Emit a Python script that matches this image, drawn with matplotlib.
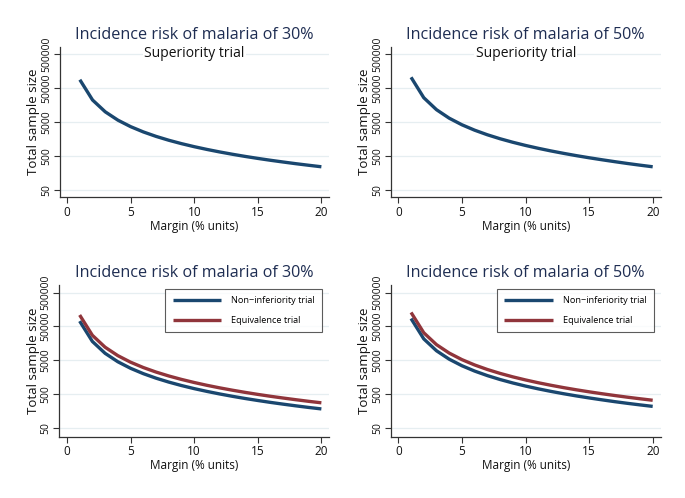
import matplotlib
matplotlib.use("Agg")
import matplotlib.pyplot as plt
from matplotlib.ticker import FixedLocator, NullLocator

plt.rcParams['font.family'] = ['Open Sans', 'DejaVu Sans']

margin = list(range(1, 21))

sup_30 = [89100, 22470, 10070, 5707, 3679, 2571, 1901, 1463, 1162, 946,
          785, 662, 566, 489, 427, 376, 334, 298, 268, 242]
sup_50 = [105080, 26254, 11657, 6548, 4183, 2898, 2124, 1621, 1277, 1030,
          848, 709, 601, 515, 446, 390, 343, 303, 270, 242]
ni_30 = [71940, 17985, 7993, 4496, 2878, 1998, 1468, 1124, 888, 719,
         595, 500, 426, 367, 320, 281, 249, 222, 199, 180]
eq_30 = [109170, 27290, 12130, 6823, 4367, 3033, 2228, 1706, 1348, 1092,
         902, 758, 646, 557, 485, 426, 378, 337, 302, 273]
ni_50 = [85640, 21410, 9516, 5353, 3426, 2379, 1748, 1338, 1057, 856,
         708, 595, 507, 437, 381, 335, 296, 264, 237, 214]
eq_50 = [129960, 32490, 14440, 8123, 5198, 3610, 2652, 2031, 1604, 1300,
         1074, 903, 769, 663, 578, 508, 450, 401, 360, 325]

titles = ["Incidence risk of malaria of 30%", "Incidence risk of malaria of 50%"]
subtitle = "Superiority trial"
legend_labels = ["Non\u2212inferiority trial", "Equivalence trial"]
xticks = [0, 5, 10, 15, 20]
yticks = [50, 500, 5000, 50000, 500000]
ytick_labels = ["50", "500", "5000", "50000", "500000"]
xlabel = "Margin (% units)"
ylabel = "Total sample size"

NAVY = "#1a476f"
MAROON = "#90353b"
TITLE_C = "#1e2d52"
GRID_C = "#e6eef1"
AX_C = "#333333"

W, H = 685, 498
fig = plt.figure(figsize=(W / 100, H / 100), dpi=100)
fig.patch.set_facecolor("white")

def px_axes(l, r, t, b):
    return fig.add_axes([l / W, 1 - b / H, (r - l) / W, (b - t) / H])

top_ylim = (10 ** 1.484, 10 ** 5.923)
bot_ylim = (10 ** 1.432, 10 ** 5.927)

axes_specs = [
    (59.5, 329, 46.7, 197.3, top_ylim, -0.6, 20.6),
    (390.7, 660.7, 46.7, 197.3, top_ylim, -0.6, 20.63),
    (59.3, 329, 285, 436.7, bot_ylim, -0.6, 20.6),
    (390.7, 660.7, 285, 436.7, bot_ylim, -0.6, 20.63),
]

axs = []
for (l, r, t, b, yl, x0, x1) in axes_specs:
    ax = px_axes(l, r, t, b)
    ax.set_yscale("log")
    ax.set_ylim(*yl)
    ax.set_xlim(x0, x1)
    ax.yaxis.set_major_locator(FixedLocator(yticks))
    ax.yaxis.set_minor_locator(NullLocator())
    ax.set_yticklabels(ytick_labels, rotation=90, va="center", fontsize=7.5)
    ax.set_xticks(xticks)
    ax.set_xticklabels([str(v) for v in xticks], fontsize=8.5)
    ax.grid(axis="y", color=GRID_C, linewidth=0.9)
    ax.set_axisbelow(True)
    for s in ["top", "right"]:
        ax.spines[s].set_visible(False)
    for s in ["left", "bottom"]:
        ax.spines[s].set_color(AX_C)
        ax.spines[s].set_linewidth(0.9)
    ax.tick_params(axis="both", direction="out", length=4, width=0.8,
                   color=AX_C, labelcolor="#111111", pad=2)
    ax.tick_params(axis="y", pad=1.5)
    ax.set_xlabel(xlabel, fontsize=8.5, labelpad=1, color="#111111")
    ax.set_ylabel(ylabel, fontsize=9.5, labelpad=0.5, color="#111111")
    axs.append(ax)

lw = 2.4
axs[0].plot(margin, sup_30, color=NAVY, lw=lw, solid_capstyle="butt")
axs[1].plot(margin, sup_50, color=NAVY, lw=lw, solid_capstyle="butt")
axs[2].plot(margin, ni_30, color=NAVY, lw=lw, solid_capstyle="butt", label=legend_labels[0])
axs[2].plot(margin, eq_30, color=MAROON, lw=lw, solid_capstyle="butt", label=legend_labels[1])
axs[3].plot(margin, ni_50, color=NAVY, lw=lw, solid_capstyle="butt", label=legend_labels[0])
axs[3].plot(margin, eq_50, color=MAROON, lw=lw, solid_capstyle="butt", label=legend_labels[1])

for i, ax in enumerate(axs):
    ax.set_title(titles[i % 2], fontsize=11.6, color=TITLE_C, pad=5.5)

for ax in axs[:2]:
    ax.text(0.5, 0.953, subtitle, transform=ax.transAxes, ha="center", va="center",
            fontsize=10, color="#111111", zorder=5,
            bbox=dict(facecolor="white", edgecolor="none", pad=1))

for ax in axs[2:]:
    leg = ax.legend(loc="upper right", bbox_to_anchor=(0.975, 0.975), fontsize=6.6,
                    frameon=True, fancybox=False, handlelength=5.3, handletextpad=1.1,
                    borderpad=0.8, labelspacing=1.2, borderaxespad=0)
    leg.get_frame().set_edgecolor("#333333")
    leg.get_frame().set_linewidth(0.8)

fig.savefig("out.png", dpi=100, facecolor="white")
